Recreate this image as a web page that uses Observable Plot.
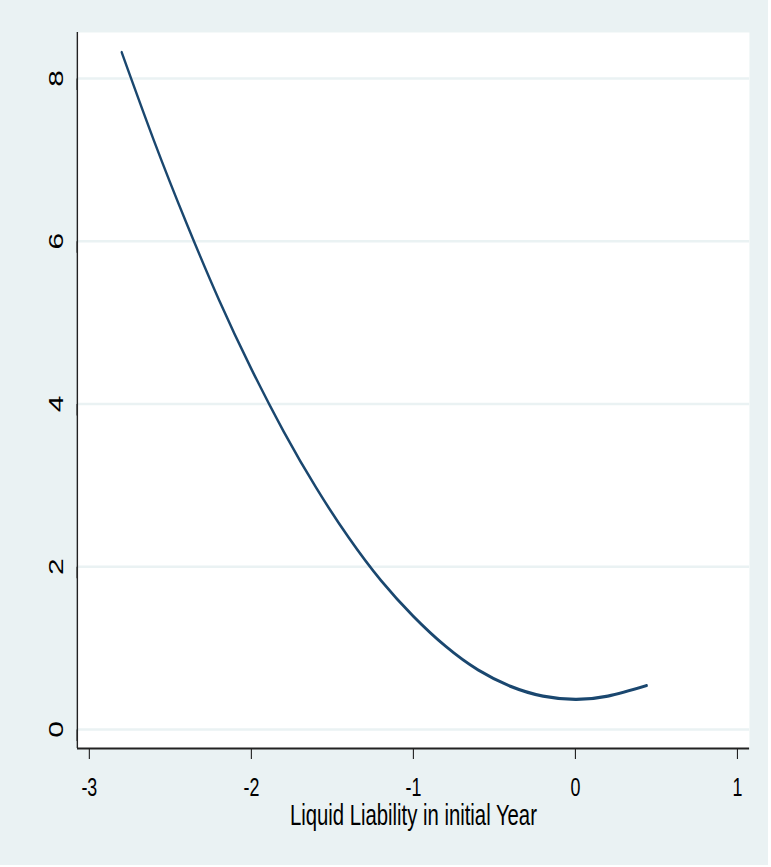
<!DOCTYPE html>
<html>
<head>
<meta charset="utf-8">
<script src="https://cdn.jsdelivr.net/npm/d3@7"></script>
<script src="https://cdn.jsdelivr.net/npm/@observablehq/plot@0.6"></script>
<style>
  html, body { margin: 0; padding: 0; background: #ffffff; }
  #chart svg { display: block; }
</style>
</head>
<body>
<div id="chart"></div>
<script>
// Fitted curve of y against liquid liability in the initial year
const liquidLiability = [-2.8, -2.6, -2.4, -2.2, -2.0, -1.8, -1.6, -1.4, -1.2, -1.0, -0.8, -0.6, -0.4, -0.2, 0.0, 0.2, 0.44];
const fittedValues    = [8.32, 7.23, 6.22, 5.28, 4.43, 3.66, 2.97, 2.36, 1.83, 1.39, 1.02, 0.73, 0.53, 0.41, 0.37, 0.41, 0.54];

const xTicks = [-3, -2, -1, 0, 1];
const yTicks = [0, 2, 4, 6, 8];
const xTitle = "Liquid Liability in initial Year";

const xDomain = [-3.074, 1.074];
const yDomain = [-0.2335, 8.565];

const curve = liquidLiability.map((x, i) => ({x, y: fittedValues[i]}));

// Narrow, Stata-like lettering: the SVG is laid out wide and squeezed horizontally
const squeeze = 0.70;
const outW = 768, H = 865;
const W = Math.round(outW / squeeze);

const bg = "#EAF2F3";
const ink = "#222222";

const chart = Plot.plot({
  width: W,
  height: H,
  marginTop: 32,
  marginBottom: 117,
  marginLeft: 110,
  marginRight: 27,
  style: {background: bg, fontFamily: "'Liberation Sans', Arial, sans-serif", color: "#000"},
  x: {domain: xDomain},
  y: {domain: yDomain},
  marks: [
    Plot.frame({fill: "white", stroke: "none"}),
    Plot.gridY(yTicks, {stroke: bg, strokeOpacity: 1, strokeWidth: 2.6}),
    Plot.ruleX([xDomain[0]], {stroke: ink, strokeWidth: 2}),
    Plot.ruleY([yDomain[0]], {stroke: ink, strokeWidth: 2}),
    Plot.axisX(xTicks, {
      tickSize: 11, tickPadding: 18, fontSize: 25.5, stroke: ink, strokeWidth: 1.6,
      tickFormat: d => String(d), label: null
    }),
    Plot.axisY(yTicks, {
      tickSize: 11.4, tickPadding: 8.6, fontSize: 30, stroke: ink, strokeWidth: 1.4,
      rotate: -90, textAnchor: "middle", lineAnchor: "bottom",
      tickFormat: d => String(d), label: null
    }),
    Plot.text([xTitle], {text: d => d, frameAnchor: "bottom", lineAnchor: "top", dy: 56, fontSize: 29, fill: "#000"}),
    Plot.line(curve, {x: "x", y: "y", stroke: "#1a476f", strokeWidth: 3.2, curve: "natural"})
  ]
});

chart.setAttribute("viewBox", `0 0 ${W} ${H}`);
chart.setAttribute("width", outW);
chart.setAttribute("height", H);
chart.setAttribute("preserveAspectRatio", "none");
document.getElementById("chart").appendChild(chart);
</script>
</body>
</html>
